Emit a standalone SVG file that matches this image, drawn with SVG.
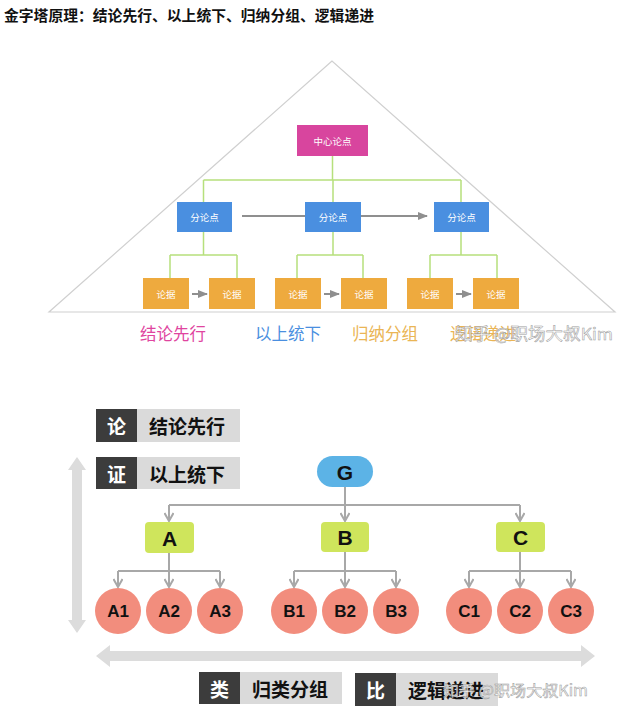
<svg xmlns="http://www.w3.org/2000/svg" width="633" height="723" viewBox="0 0 633 723">
<style>
.cjk{font-family:"Noto Sans CJK SC","Noto Sans",sans-serif}
.lat{font-family:"Liberation Sans",Arial,sans-serif;font-weight:bold}
.wt{fill:#fff;font-size:9.5px}
.grn{stroke:#b6e07c;stroke-width:1.5;fill:none}
.gr{stroke:#a8a8a8;stroke-width:2;fill:none}
.circ{fill:#f28d7d}
.lbl{font-size:17px;fill:#111}
.box{fill:#cfe55c}
.big{font-size:21px;fill:#111}
.dk{fill:#3c3c3c}
.lt{fill:#dadada}
.tag{font-size:19px;font-weight:bold}
.wm{fill:#fff;fill-opacity:0.85;stroke:#9a9a9a;stroke-width:0.5}
</style>
<defs>
<marker id="tri" markerUnits="userSpaceOnUse" markerWidth="10" markerHeight="8" refX="9" refY="4" orient="auto">
<path d="M0,0 L10,4 L0,8 Z" fill="#8f8f8f"/>
</marker>
<marker id="vee" markerUnits="userSpaceOnUse" markerWidth="12" markerHeight="10" refX="10" refY="5" orient="auto">
<path d="M2,0.5 L10,5 L2,9.5" fill="none" stroke="#a8a8a8" stroke-width="2"/>
</marker>
</defs>
<rect width="633" height="723" fill="#fff"/>
<text id="title" class="cjk" x="4" y="14" dominant-baseline="central" font-size="14.5" font-weight="bold" fill="#111" textLength="370" lengthAdjust="spacingAndGlyphs">金字塔原理：结论先行、以上统下、归纳分组、逻辑递进</text>

<g id="pyramid">
<polygon points="332,61 49,312 615,312" fill="none" stroke="#d0d0d0" stroke-width="1.2"/>
</g>

<g id="connectors-top">
<path class="grn" d="M332.5,156 V180 M203.5,180 H461 M203.5,180 V202 M333,180 V202 M461,180 V202"/>
<path class="grn" d="M203.5,232 V255 M170,255 H237 M170,255 V278 M237,255 V278"/>
<path class="grn" d="M333,232 V255 M297,255 H363 M297,255 V278 M363,255 V278"/>
<path class="grn" d="M461,232 V255 M430,255 H497 M430,255 V278 M497,255 V278"/>
<line x1="242" y1="216" x2="305" y2="216" stroke="#8f8f8f" stroke-width="2"/>
<line x1="361" y1="216" x2="427" y2="216" stroke="#8f8f8f" stroke-width="2" marker-end="url(#tri)"/>
<line x1="192" y1="294" x2="207" y2="294" stroke="#8f8f8f" stroke-width="2" marker-end="url(#tri)"/>
<line x1="324" y1="294" x2="339" y2="294" stroke="#8f8f8f" stroke-width="2" marker-end="url(#tri)"/>
<line x1="456" y1="294" x2="471" y2="294" stroke="#8f8f8f" stroke-width="2" marker-end="url(#tri)"/>
</g>

<g id="center">
<rect x="297" y="125" width="71" height="31" fill="#d8459e"/>
<text class="cjk wt" x="332.5" y="140.5" text-anchor="middle" dominant-baseline="central">中心论点</text>
</g>
<g id="sub1"><rect x="177" y="202" width="55" height="30" fill="#4a8fe0"/><text class="cjk wt" x="204.5" y="217" text-anchor="middle" dominant-baseline="central">分论点</text></g>
<g id="sub2"><rect x="305" y="202" width="56" height="30" fill="#4a8fe0"/><text class="cjk wt" x="333" y="217" text-anchor="middle" dominant-baseline="central">分论点</text></g>
<g id="sub3"><rect x="434" y="202" width="55" height="30" fill="#4a8fe0"/><text class="cjk wt" x="461.5" y="217" text-anchor="middle" dominant-baseline="central">分论点</text></g>

<g id="ev1"><rect x="143" y="278" width="46" height="31" fill="#eeaa3e"/><text class="cjk wt" x="166" y="293.5" text-anchor="middle" dominant-baseline="central">论据</text></g>
<g id="ev2"><rect x="209" y="278" width="46" height="31" fill="#eeaa3e"/><text class="cjk wt" x="232" y="293.5" text-anchor="middle" dominant-baseline="central">论据</text></g>
<g id="ev3"><rect x="275" y="278" width="46" height="31" fill="#eeaa3e"/><text class="cjk wt" x="298" y="293.5" text-anchor="middle" dominant-baseline="central">论据</text></g>
<g id="ev4"><rect x="341" y="278" width="46" height="31" fill="#eeaa3e"/><text class="cjk wt" x="364" y="293.5" text-anchor="middle" dominant-baseline="central">论据</text></g>
<g id="ev5"><rect x="407" y="278" width="46" height="31" fill="#eeaa3e"/><text class="cjk wt" x="430" y="293.5" text-anchor="middle" dominant-baseline="central">论据</text></g>
<g id="ev6"><rect x="473" y="278" width="46" height="31" fill="#eeaa3e"/><text class="cjk wt" x="496" y="293.5" text-anchor="middle" dominant-baseline="central">论据</text></g>

<g id="top-labels" class="cjk" font-size="16.5">
<text x="140" y="333" dominant-baseline="central" fill="#e0459f">结论先行</text>
<text x="255" y="333" dominant-baseline="central" fill="#4a8fe0">以上统下</text>
<text x="352" y="333" dominant-baseline="central" fill="#eab555">归纳分组</text>
<text x="450" y="333" dominant-baseline="central" fill="#eab555">逻辑递进</text>
<text class="wm" x="455" y="333" dominant-baseline="central" textLength="158" lengthAdjust="spacingAndGlyphs">知乎 @职场大叔Kim</text>
</g>

<g id="axes">
<polygon points="77,457 86,470 82,470 82,620 86,620 77,633 68,620 72,620 72,470 68,470" fill="#dcdcdc"/>
<polygon points="96,656 110,645 110,651 581,651 581,645 595,656 581,667 581,661 110,661 110,667" fill="#dcdcdc"/>
</g>

<g id="tag-lun"><rect class="dk" x="96" y="409" width="41" height="33"/><rect class="lt" x="137" y="409" width="103" height="33"/>
<text class="cjk tag" x="116.5" y="425.5" text-anchor="middle" dominant-baseline="central" fill="#fff">论</text>
<text class="cjk tag" x="149" y="425.5" dominant-baseline="central" fill="#111">结论先行</text></g>
<g id="tag-zheng"><rect class="dk" x="96" y="457" width="41" height="32"/><rect class="lt" x="137" y="457" width="103" height="32"/>
<text class="cjk tag" x="116.5" y="473" text-anchor="middle" dominant-baseline="central" fill="#fff">证</text>
<text class="cjk tag" x="149" y="473" dominant-baseline="central" fill="#111">以上统下</text></g>
<g id="tag-lei"><rect class="dk" x="199" y="672" width="41" height="32"/><rect class="lt" x="240" y="672" width="102" height="32"/>
<text class="cjk tag" x="219.5" y="688" text-anchor="middle" dominant-baseline="central" fill="#fff">类</text>
<text class="cjk tag" x="252" y="688" dominant-baseline="central" fill="#111">归类分组</text></g>
<g id="tag-bi"><rect class="dk" x="355" y="673" width="41" height="33"/><rect class="lt" x="396" y="673" width="102" height="33"/>
<text class="cjk tag" x="375.5" y="689.5" text-anchor="middle" dominant-baseline="central" fill="#fff">比</text>
<text class="cjk tag" x="408" y="689.5" dominant-baseline="central" fill="#111">逻辑递进</text>
<text class="cjk wm" x="443" y="689" font-size="15" dominant-baseline="central" textLength="145" lengthAdjust="spacingAndGlyphs">知乎 @职场大叔Kim</text></g>

<g id="connectors-tree">
<line class="gr" x1="345" y1="487" x2="345" y2="521" marker-end="url(#vee)"/>
<line class="gr" x1="169" y1="505" x2="520" y2="505"/>
<line class="gr" x1="169" y1="505" x2="169" y2="521" marker-end="url(#vee)"/>
<line class="gr" x1="520" y1="505" x2="520" y2="521" marker-end="url(#vee)"/>
<line class="gr" x1="169" y1="553" x2="169" y2="587" marker-end="url(#vee)"/>
<line class="gr" x1="118" y1="571" x2="220" y2="571"/>
<line class="gr" x1="118" y1="571" x2="118" y2="587" marker-end="url(#vee)"/>
<line class="gr" x1="220" y1="571" x2="220" y2="587" marker-end="url(#vee)"/>
<line class="gr" x1="345" y1="552" x2="345" y2="587" marker-end="url(#vee)"/>
<line class="gr" x1="294" y1="571" x2="396" y2="571"/>
<line class="gr" x1="294" y1="571" x2="294" y2="587" marker-end="url(#vee)"/>
<line class="gr" x1="396" y1="571" x2="396" y2="587" marker-end="url(#vee)"/>
<line class="gr" x1="520" y1="552" x2="520" y2="587" marker-end="url(#vee)"/>
<line class="gr" x1="469" y1="571" x2="571" y2="571"/>
<line class="gr" x1="469" y1="571" x2="469" y2="587" marker-end="url(#vee)"/>
<line class="gr" x1="571" y1="571" x2="571" y2="587" marker-end="url(#vee)"/>
</g>

<g id="G"><rect x="317" y="456" width="56" height="31" rx="15.5" fill="#5cb3e6"/><text class="lat big" x="345" y="472" text-anchor="middle" dominant-baseline="central">G</text></g>
<g id="A"><rect class="box" x="145" y="522" width="49" height="31" rx="4"/><text class="lat big" x="169.5" y="538" text-anchor="middle" dominant-baseline="central">A</text></g>
<g id="B"><rect class="box" x="321" y="522" width="48" height="30" rx="4"/><text class="lat big" x="345" y="537.5" text-anchor="middle" dominant-baseline="central">B</text></g>
<g id="C"><rect class="box" x="496" y="522" width="49" height="30" rx="4"/><text class="lat big" x="520.5" y="537.5" text-anchor="middle" dominant-baseline="central">C</text></g>

<g id="A1"><circle class="circ" cx="118" cy="611" r="23"/><text class="lat lbl" x="118" y="611.5" text-anchor="middle" dominant-baseline="central">A1</text></g>
<g id="A2"><circle class="circ" cx="169" cy="611" r="23"/><text class="lat lbl" x="169" y="611.5" text-anchor="middle" dominant-baseline="central">A2</text></g>
<g id="A3"><circle class="circ" cx="220" cy="611" r="23"/><text class="lat lbl" x="220" y="611.5" text-anchor="middle" dominant-baseline="central">A3</text></g>
<g id="B1"><circle class="circ" cx="294" cy="611" r="23"/><text class="lat lbl" x="294" y="611.5" text-anchor="middle" dominant-baseline="central">B1</text></g>
<g id="B2"><circle class="circ" cx="345" cy="611" r="23"/><text class="lat lbl" x="345" y="611.5" text-anchor="middle" dominant-baseline="central">B2</text></g>
<g id="B3"><circle class="circ" cx="396" cy="611" r="23"/><text class="lat lbl" x="396" y="611.5" text-anchor="middle" dominant-baseline="central">B3</text></g>
<g id="C1"><circle class="circ" cx="469" cy="611" r="23"/><text class="lat lbl" x="469" y="611.5" text-anchor="middle" dominant-baseline="central">C1</text></g>
<g id="C2"><circle class="circ" cx="520" cy="611" r="23"/><text class="lat lbl" x="520" y="611.5" text-anchor="middle" dominant-baseline="central">C2</text></g>
<g id="C3"><circle class="circ" cx="571" cy="611" r="23"/><text class="lat lbl" x="571" y="611.5" text-anchor="middle" dominant-baseline="central">C3</text></g>
</svg>
